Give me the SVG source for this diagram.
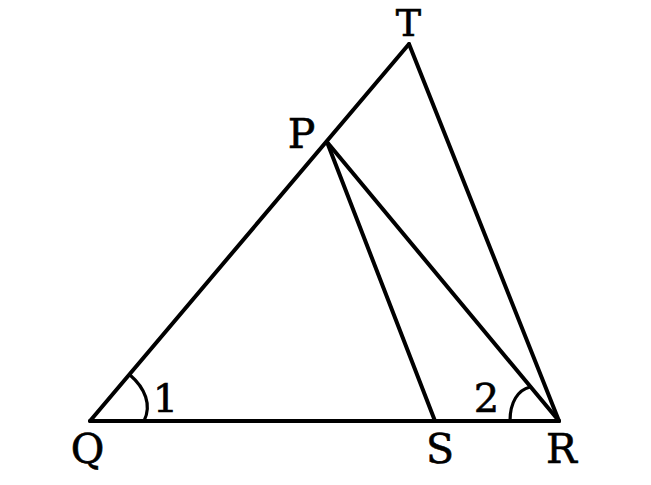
<svg xmlns="http://www.w3.org/2000/svg" width="651" height="485" viewBox="0 0 651 485">
<style>
.ln{stroke:#000;stroke-width:4;fill:none;stroke-linecap:round;stroke-linejoin:round}
.arc{stroke:#000;stroke-width:3.2;fill:none}
.lb{font-family:"DejaVu Serif","Liberation Serif",serif;font-size:41px;fill:#000;stroke:#000;stroke-width:0.6;text-anchor:middle}
.num{font-family:"DejaVu Serif","Liberation Serif",serif;font-size:40px;fill:#000;stroke:#000;stroke-width:0.6;text-anchor:middle}
</style>
<rect width="651" height="485" fill="#fff"/>
<g id="connectors">
<line class="ln" x1="90" y1="421" x2="559" y2="421"/>
<line class="ln" x1="90" y1="421" x2="409" y2="44"/>
<line class="ln" x1="409" y1="44" x2="559" y2="421"/>
<line class="ln" x1="327" y1="142" x2="559" y2="421"/>
<line class="ln" x1="327" y1="142" x2="435" y2="421"/>
<path class="arc" d="M130,375 C145,388 152,405 144,421"/>
<path class="arc" d="M510,421 C510,402 518,390 530,387"/>
</g>
<g id="T"><text class="lb" x="408.5" y="36" style="font-size:38px">T</text></g>
<g id="P"><text class="lb" x="301.5" y="148">P</text></g>
<g id="Q"><text class="lb" x="87.5" y="463">Q</text></g>
<g id="S"><text class="lb" x="440" y="463">S</text></g>
<g id="R"><text class="lb" x="561.5" y="463">R</text></g>
<g id="angle1"><text class="num" x="165.5" y="412">1</text></g>
<g id="angle2"><text class="num" x="486.5" y="412">2</text></g>
</svg>
